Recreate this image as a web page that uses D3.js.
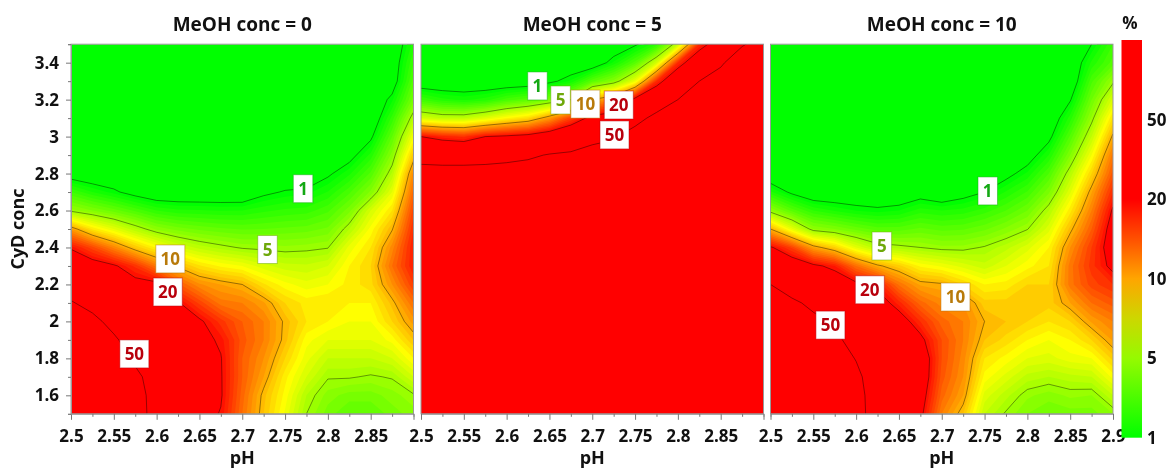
<!DOCTYPE html>
<html>
<head>
<meta charset="utf-8">
<title>MeOH conc contour plots</title>
<script src="https://cdn.jsdelivr.net/npm/d3@7"></script>
<style>
  html, body { margin: 0; background: #fff; }
  svg { display: block; filter: blur(0.4px); }
  text { font-family: "Open Sans", sans-serif; font-weight: 700; fill: #111; }
  .axis path { stroke: #999; }
  .axis line { stroke: #777; }
  .axis text { font-family: "Open Sans", sans-serif; font-size: 17px; font-weight: 700; }
</style>
</head>
<body>
<svg id="chart" width="1169" height="470"></svg>
<script>
// Response surfaces, % at each (pH, CyD conc) node.
// One inner array per pH column, top row first (CyD conc 3.5 down to 1.5).
const phGrid = [2.5, 2.525, 2.55, 2.575, 2.6, 2.625, 2.65, 2.675, 2.7, 2.725, 2.75, 2.775, 2.8, 2.825, 2.85, 2.875, 2.9];
const cydGrid = [3.5, 3.4, 3.3, 3.2, 3.1, 3, 2.9, 2.8, 2.7, 2.6, 2.5, 2.4, 2.3, 2.2, 2.1, 2, 1.9, 1.8, 1.7, 1.6, 1.5];

const meoh0 = [
  [0,0,0,0,0,0,0,.3,2.6,4.8,11.3,19.6,31,42,52,60,65,70,72,75,75],
  [0,0,0,0,0,0,0,0,1.8,4.2,8.4,16.4,25.8,35.5,45,57,62,66,70,72,72],
  [0,0,0,0,0,0,0,0,1.2,3.6,7,12.7,21.5,29,37,45,54,60,64,66,66],
  [0,0,0,0,0,0,0,0,.5,2.9,5.6,9.4,17.7,24,30,36,42,47.7,55,57,58],
  [0,0,0,0,0,0,0,0,0,2.2,4.5,7.9,13.6,23,29,33.5,38,41.6,44,46,46],
  [0,0,0,0,0,0,0,0,0,1.9,4,6.6,9.8,15.3,21,26,29,32,34,35,35],
  [0,0,0,0,0,0,0,0,0,1.84,3.7,5.8,8.6,12.2,16.7,21.8,23.6,25,26,26,24.5],
  [0,0,0,0,0,0,0,0,0,1.77,3.5,5.3,7.9,11,13.5,17.5,19.5,20.5,20.8,21,19.8],
  [0,0,0,0,0,0,0,0,0,1.8,3.35,4.9,7.5,10,13,15,15.5,15,15,14.5,14],
  [0,0,0,0,0,0,0,0,.73,2.1,3.4,4.8,6.7,8.6,11.2,13,13,12,11,9.7,9.5],
  [0,0,0,0,0,0,0,0,1.1,2.3,3.5,4.7,6.2,7.7,9,9.8,9.7,9,8.2,7.8,7.4],
  [0,0,0,0,0,0,0,0,1.24,2.4,3.6,4.8,6.1,7.2,8.3,8.5,7.7,7.2,6.5,5.5,5],
  [0,0,0,0,0,0,0,.8,1.83,2.9,3.9,4.95,6.5,7.5,8.5,8,7,6,5.1,4.4,4],
  [0,0,0,0,0,0,.53,1.7,2.9,4.05,5.5,7.2,8,8.2,8,7.5,7,6,5.1,4,3.4],
  [0,0,0,0,0,.76,1.94,3.1,4.3,6.5,7.7,8.5,9,8.8,8,7.5,7,6,4.9,4,3.4],
  [0,.2,.3,1.3,2.35,3.4,4.4,5.6,7,8.5,9.9,12.5,14,12,9.7,9,7.7,6.5,5.1,4.4,4],
  [2,2.6,3.2,4,5.6,7.5,9.4,12.5,14.5,16.5,18,19,19,17,14,11.5,9.5,8,6.5,4.9,4.4]
];

// lower rows of the middle panel are solid red
const redTail = [72,75,78,80,82,84,85,85,85,85,85,85,85];
const meoh5 = [
  [0,0,0,2.6,6.5,20,41,65, ...redTail],
  [0,0,0,1.95,5.9,18.5,39,65, ...redTail],
  [0,0,0,1.7,5.9,17.7,39,65, ...redTail],
  [0,0,0,2,6.8,20,40.7,65, ...redTail],
  [0,0,0,2.8,7.9,22,43.7,65, ...redTail],
  [0,0,.1,3.3,8.8,24.5,47,65, ...redTail],
  [0,0,.7,4,11.5,30,52,70, ...redTail],
  [0,0,1.5,5,16.7,36.5,55,75, ...redTail],
  [0,0,3.3,10,24.5,42.8,65,80, ...redTail],
  [0,1.5,4.4,13,30,48,65,80, ...redTail],
  [.8,3.2,7.2,24.5,42.8,65,80,85, ...redTail],
  [2.2,6.5,18,36.5,60,75,80,85, ...redTail],
  [6,18,34,50,70,80,85,85, ...redTail],
  [18,32,50,65,80,85,85,85, ...redTail],
  [29,47,65,80,85,85,85,85, ...redTail],
  [48,72,80,85,85,85,85,85, ...redTail],
  [65,80,85,85,85,85,85,85, ...redTail]
];

const meoh10 = [
  [0,0,0,0,0,0,0,0,1.9,4.6,10,21.4,35.7,50,55,62,68,72,75,78,80],
  [0,0,0,0,0,0,0,0,.75,3.25,7.1,16.7,29,41.6,55,59,65,69,72,74,76],
  [0,0,0,0,0,0,0,0,0,2.2,4.6,11.1,22.4,34.4,46.4,56,62,66,68,70,70],
  [0,0,0,0,0,0,0,0,0,1.74,4.2,9.1,19,28.7,38,48,57,61,63,64,65],
  [0,0,0,0,0,0,0,0,0,1.38,3.65,7,14,22.7,29,36,42.5,49.4,55,57,58],
  [0,0,0,0,0,0,0,0,0,1.2,3.2,5.6,10.5,19,26,30.5,35,39.5,42.5,44,44],
  [0,0,0,0,0,0,0,0,0,1.4,3.2,5.3,9.2,13.8,18.5,26,31.4,33.5,33.5,32,30.5],
  [0,0,0,0,0,0,0,0,.4,2,3.5,5,7.9,10.8,14.5,18,23,29,29,26,23],
  [0,0,0,0,0,0,0,0,0,1.8,3.25,4.75,7.4,10.3,12.5,14.5,16,16,15.5,14.5,13],
  [0,0,0,0,0,0,0,0,.5,1.95,3.35,4.75,6.8,9,12,13,13,12.5,12,11,9.5],
  [0,0,0,0,0,0,0,0,1,2.4,3.7,5.1,6.2,8,9.2,10,9.5,8.5,7.8,6.8,6],
  [0,0,0,0,0,0,0,.6,1.85,3,4.3,5.8,7,8.2,9.2,9.5,8.8,7.8,6.8,5.7,4.9],
  [0,0,0,0,0,0,.37,1.5,2.65,3.8,4.95,6.8,7.8,9,9.3,9,8,7,5.8,4.7,4.2],
  [0,0,0,0,0,.65,1.8,3,4.1,5.5,6.8,8,8.5,9,9.2,8.5,7.5,6.8,5.5,4.4,3.8],
  [0,0,0,.9,2,3.1,4.2,5.6,6.9,8.3,9.7,12,13.5,13.5,11,9,8,7.3,5.8,4.7,4],
  [1,1.9,2.9,3.8,4.7,6,7.5,9,10.9,13,15,17,17.5,16.5,14,11.2,9,7.5,6,4.6,4],
  [2.6,3.2,4.8,6.7,8.6,10.5,13.5,15.5,18,21.5,26,27,23,18,15.5,13,11.2,9.2,7.7,6,4.6]
];

const panelTitles = ["MeOH conc = 0", "MeOH conc = 5", "MeOH conc = 10"];
const panelData = [meoh0, meoh5, meoh10];

// contour levels and where their tags sit, per panel (pH, CyD conc)
const levels = [1, 5, 10, 20, 50];
const levelColors = ["#14a814", "#6ea80a", "#b87a0a", "#b8000c", "#b8000c"];
const tagPh = [
  [2.771, 2.7295, 2.616, 2.613, 2.574],
  [2.636, 2.663, 2.692, 2.731, 2.726],
  [2.7537, 2.63, 2.716, 2.616, 2.57]
];
const tagCyd = [
  [2.718, 2.389, 2.338, 2.159, 1.824],
  [3.274, 3.198, 3.176, 3.171, 3.009],
  [2.706, 2.408, 2.132, 2.171, 1.98]
];

const colorbarTicks = [1, 5, 10, 20, 50];
const xTicks = d3.range(0, 17).map((i) => +(2.5 + i * 0.025).toFixed(3));
const yTicks = d3.range(0, 21).map((i) => +(1.5 + i * 0.1).toFixed(1));

// axis of the colour scale has equal steps between these values
const pos = d3.scaleLinear().domain([1, 5, 10, 20, 50, 100]).range([0, 1, 2, 3, 4, 5]);

// map colours (bright yellow) vs. the duller ramp shown in the colour bar
const mapColor = d3.scaleLinear()
  .domain([0, 1, 1.5, 2, 2.5, 3])
  .range(["#00ff00", "#aaff00", "#ffff00", "#ffaa00", "#ff5500", "#ff0000"])
  .clamp(true);
const barStops = [[0, "#00ff00"], [1, "#96fa00"], [1.5, "#cdd700"], [2, "#ffa500"], [2.5, "#ff5000"], [3, "#ff0000"], [5, "#ff0000"]];

const svg = d3.select("#chart");
const panelW = 342.5, plotTop = 44.2, plotBottom = 413.8;
const panelX = [71, 421, 770.5];

const y = d3.scaleLinear().domain([1.5, 3.5]).range([plotBottom, plotTop]);
const bandLevels = d3.range(1, 31).map((i) => i * 0.1);

svg.append("defs").selectAll("clipPath").data(panelX).join("clipPath")
  .attr("id", (d, i) => `clip${i}`)
  .append("rect")
  .attr("x", (d) => d).attr("y", plotTop).attr("width", panelW).attr("height", plotBottom - plotTop);

panelData.forEach((columns, p) => {
  const x = d3.scaleLinear().domain([2.5, 2.9]).range([panelX[p], panelX[p] + panelW]);

  // contours wants a flat row-major array
  const n = phGrid.length, m = cydGrid.length;
  const flat = [];
  for (let j = 0; j < m; j++) for (let i = 0; i < n; i++) flat.push(pos(columns[i][j]));

  // grid nodes are at cell centres, hence the 0.5 shift
  const path = d3.geoPath(d3.geoTransform({
    point(cx, cy) {
      this.stream.point(x(2.5 + (cx - 0.5) * 0.025), y(3.5 - (cy - 0.5) * 0.1));
    }
  }));
  const contours = d3.contours().size([n, m]);

  const g = svg.append("g").attr("clip-path", `url(#clip${p})`);
  g.append("rect").attr("x", panelX[p]).attr("y", plotTop)
    .attr("width", panelW).attr("height", plotBottom - plotTop).attr("fill", "#00ff00");
  g.selectAll("path.band").data(contours.thresholds(bandLevels)(flat)).join("path")
    .attr("class", "band")
    .attr("d", path)
    .attr("fill", (d) => mapColor(d.value));
  g.selectAll("path.level").data(contours.thresholds(levels.map((l) => pos(l)))(flat)).join("path")
    .attr("class", "level")
    .attr("d", path)
    .attr("fill", "none")
    .attr("stroke", "#000")
    .attr("stroke-opacity", 0.45)
    .attr("stroke-width", 0.9);

  // frame
  svg.append("rect").attr("x", panelX[p]).attr("y", plotTop)
    .attr("width", panelW).attr("height", plotBottom - plotTop)
    .attr("fill", "none").attr("stroke", "#999").attr("stroke-width", 1);

  // x axis: every other tick is labelled, 2.9 only on the last panel
  const xAxis = d3.axisBottom(x).tickValues(xTicks).tickSize(3).tickPadding(8)
    .tickFormat((d, i) => (i % 2 === 0 && (i < 16 || p === 2)) ? String(d) : "");
  const gx = svg.append("g").attr("class", "axis")
    .attr("transform", `translate(0,${plotBottom})`).call(xAxis);
  gx.selectAll(".tick line").attr("y2", (d, i) => (i % 2 === 0 ? 6 : 3));
  gx.selectAll(".tick text").attr("y", 16).attr("dy", "0.71em");

  svg.append("text").attr("x", x(2.7)).attr("y", 464).attr("text-anchor", "middle")
    .style("font-size", "18px").text("pH");
  svg.append("text").attr("x", x(2.7)).attr("y", 31).attr("text-anchor", "middle")
    .style("font-size", "19px").text(panelTitles[p]);

  // contour tags
  levels.forEach((l, k) => {
    const label = String(l);
    const w = label.length > 1 ? 29 : 19.5;
    const cx = x(tagPh[p][k]), cy = y(tagCyd[p][k]);
    svg.append("rect").attr("x", cx - w / 2).attr("y", cy - 14).attr("width", w).attr("height", 28)
      .attr("fill", "#fff").attr("stroke", levelColors[k]).attr("stroke-opacity", 0.5).attr("stroke-width", 1);
    svg.append("text").attr("x", cx).attr("y", cy).attr("dy", "0.36em").attr("text-anchor", "middle")
      .style("font-size", "17px").style("fill", levelColors[k]).text(label);
  });
});

// y axis on the first panel only
const yAxis = d3.axisLeft(y).tickValues(yTicks).tickSize(3).tickPadding(8)
  .tickFormat((d, i) => (i % 2 === 1 ? String(d) : ""));
const gy = svg.append("g").attr("class", "axis")
  .attr("transform", `translate(${panelX[0]},0)`).call(yAxis);
gy.selectAll(".tick line").attr("x2", (d, i) => (i % 2 === 1 ? -5 : -3));
gy.selectAll(".tick text").attr("x", -12);

svg.append("text").attr("transform", `translate(24,${y(2.5)}) rotate(-90)`)
  .attr("text-anchor", "middle").style("font-size", "18px").text("CyD conc");

// colour bar
const barY = d3.scaleLinear().domain([0, 5]).range([437.7, 40]);
const grad = svg.select("defs").append("linearGradient")
  .attr("id", "barGrad").attr("x1", 0).attr("x2", 0).attr("y1", 1).attr("y2", 0);
grad.selectAll("stop").data(barStops).join("stop")
  .attr("offset", (d) => d[0] / 5).attr("stop-color", (d) => d[1]);
svg.append("rect").attr("x", 1121.5).attr("y", barY(5)).attr("width", 20.5)
  .attr("height", barY(0) - barY(5)).attr("fill", "url(#barGrad)");
svg.selectAll("text.bar").data(colorbarTicks).join("text")
  .attr("class", "bar")
  .attr("x", 1147).attr("y", (d) => barY(pos(d))).attr("dy", "0.36em")
  .style("font-size", "17px").text((d) => d);
svg.append("text").attr("x", 1130).attr("y", 29).attr("text-anchor", "middle")
  .style("font-size", "17px").text("%");
</script>
</body>
</html>
